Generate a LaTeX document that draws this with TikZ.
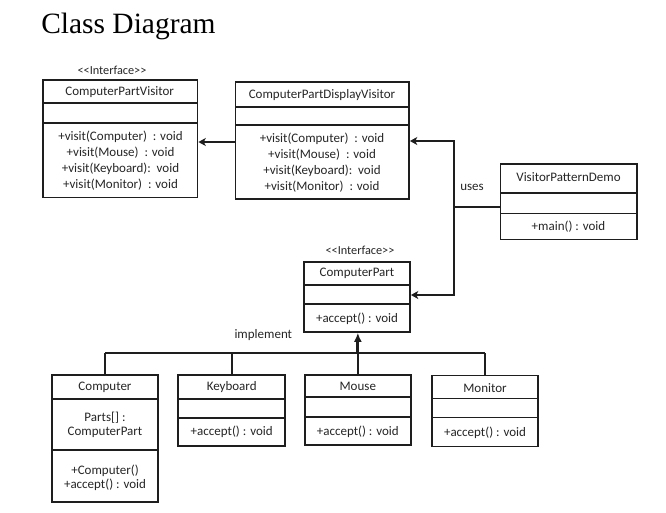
\documentclass[tikz,border=0pt]{standalone}
\usepackage{fontspec}
\setmainfont{Carlito}
\newfontfamily\titlefont{Liberation Serif}
\usetikzlibrary{arrows.meta,fit}
\definecolor{ink}{HTML}{1E1E1E}
\definecolor{txtc}{HTML}{262626}

% A UML class box: name, left x, top y, right x, bottom y, first and second divider y
\newcommand\umlbox[7]{%
  \node[umlframe, fit={(#2,#3) (#4,#5)}] (#1) {};
  \draw[divider] (#2,#6) -- (#4,#6);
  \draw[divider] (#2,#7) -- (#4,#7);
}
\newcommand\stereotype{<{}<Interface>{}>}

\begin{document}
\begin{tikzpicture}[x=0.75pt,y=-0.75pt,
  umlframe/.style={draw=ink, line width=1.4pt, inner sep=0pt},
  divider/.style={draw=ink, line width=1.25pt},
  conn/.style={draw=ink, line width=1.45pt},
  arr/.style={conn, -{Stealth[length=5.5pt,width=6pt,inset=1.5pt]}},
  implarrow/.style={draw=ink, line width=2.2pt, -{Latex[length=7pt,width=6pt]}},
  txt/.style={font=\fontsize{9.75}{12}\selectfont, text=txtc, inner sep=0pt, align=center},
  stereo/.style={txt, font=\fontsize{9.2}{11}\selectfont},
]
\useasboundingbox[fill=white] (0,0) rectangle (666,512);

% heading
\node[anchor=base west, inner sep=0pt, font=\titlefont\fontsize{22.1}{26}\selectfont] (title) at (41,33) {Class Diagram};

% class boxes
\umlbox{cpv}{42.7}{80}{197.5}{197.5}{103.3}{123.3}
\umlbox{cpdv}{235.5}{82.3}{409}{199}{106.7}{125}
\umlbox{vpd}{500.5}{164}{636.7}{239.5}{193.3}{213.5}
\umlbox{cp}{304}{261.7}{410}{331.7}{285}{304.3}
\umlbox{computer}{51.7}{375}{158.3}{501.7}{399.3}{450}
\umlbox{keyboard}{178.3}{375}{285}{446}{399.3}{417.7}
\umlbox{mouse}{305}{375}{410.7}{445}{397.3}{416.7}
\umlbox{monitor}{431.7}{375.5}{538.3}{446.5}{398.5}{417.5}

% ComputerPartVisitor
\node[stereo] (cpvst) at (112,70) {\stereotype};
\node[txt] (cpvname) at (119.7,92.5) {ComputerPartVisitor};
\node[txt, font=\fontsize{9.75}{11.9}\selectfont] (cpvops) at (120.5,160.5) {+visit(Computer)~~: void\\+visit(Mouse)~~: void\\+visit(Keyboard):~~void\\+visit(Monitor)~~: void};

% ComputerPartDisplayVisitor
\node[txt] (cpdvname) at (322,95) {ComputerPartDisplayVisitor};
\node[txt, font=\fontsize{9.75}{12.1}\selectfont] (cpdvops) at (322,162.5) {+visit(Computer)~~: void\\+visit(Mouse)~~: void\\+visit(Keyboard):~~void\\+visit(Monitor)~~: void};

% VisitorPatternDemo
\node[txt] (vpdname) at (568.5,177.3) {VisitorPatternDemo};
\node[txt] (vpdops) at (568.5,227) {+main() : void};

% ComputerPart
\node[stereo] (cpst) at (360,250) {\stereotype};
\node[txt] (cpname) at (357,273.5) {ComputerPart};
\node[txt] (cpops) at (357,318.3) {+accept() : void};

% concrete parts
\node[txt] (computername) at (105,387.3) {Computer};
\node[txt, font=\fontsize{9.75}{11}\selectfont] (computerattr) at (105,425) {Parts[] :\\ComputerPart};
\node[txt, font=\fontsize{9.75}{10.5}\selectfont] (computerops) at (105,478) {+Computer()\\+accept() : void};

\node[txt] (keyboardname) at (231.7,387.3) {Keyboard};
\node[txt] (keyboardops) at (231.7,431.7) {+accept() : void};

\node[txt] (mousename) at (357.8,386.5) {Mouse};
\node[txt] (mouseops) at (357.8,431.7) {+accept() : void};

\node[txt] (monitorname) at (485,387.7) {Monitor};
\node[txt] (monitorops) at (485,433) {+accept() : void};

% display visitor to visitor interface
\coordinate (visitrow) at (0,142);
\draw[arr] (cpdv.west |- visitrow) -- (cpv.east |- visitrow);

% uses relation
\coordinate (usesj) at (454,207);
\coordinate (usesrowA) at (0,141);
\coordinate (usesrowB) at (0,295);
\draw[conn] (vpd.west |- usesj) -- (usesj);
\draw[arr] (usesj) |- (cpdv.east |- usesrowA);
\draw[arr] (usesj) |- (cp.east |- usesrowB);
\node[txt] (useslbl) at (472,187.3) {uses};

% implement relation
\coordinate (bus) at (0,353.3);
\draw[conn] (computer.north |- bus) -- (monitor.north |- bus);
\draw[conn] (computer.north) -- (computer.north |- bus);
\draw[conn] (keyboard.north) -- (keyboard.north |- bus);
\draw[conn] (monitor.north) -- (monitor.north |- bus);
\draw[conn] (mouse.north) -- (mouse.north |- bus);
\draw[implarrow] (mouse.north |- bus) -- (mouse.north |- cp.south);
\node[txt] (impllbl) at (263.3,335) {implement};
\end{tikzpicture}
\end{document}
